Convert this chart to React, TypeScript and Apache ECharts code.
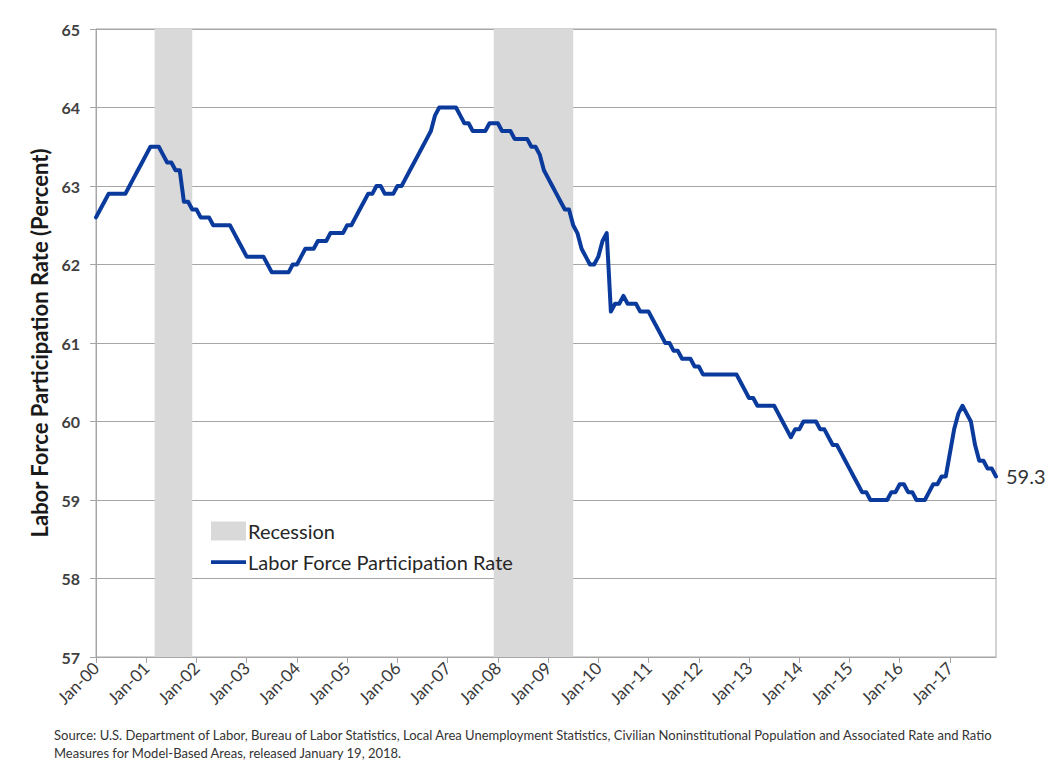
import React, { useEffect, useRef } from "react";
import * as echarts from "echarts";

const MONTHS = ["Jan", "Feb", "Mar", "Apr", "May", "Jun", "Jul", "Aug", "Sep", "Oct", "Nov", "Dec"];
const YEARS = [2000, 2001, 2002, 2003, 2004, 2005, 2006, 2007, 2008, 2009, 2010, 2011, 2012, 2013, 2014, 2015, 2016, 2017];
const CATEGORIES = YEARS.flatMap((y) => MONTHS.map((m) => `${m}-${String(y).slice(2)}`));

const lfpr2000 = [62.6, 62.7, 62.8, 62.9, 62.9, 62.9, 62.9, 62.9, 63.0, 63.1, 63.2, 63.3];
const lfpr2001 = [63.4, 63.5, 63.5, 63.5, 63.4, 63.3, 63.3, 63.2, 63.2, 62.8, 62.8, 62.7];
const lfpr2002 = [62.7, 62.6, 62.6, 62.6, 62.5, 62.5, 62.5, 62.5, 62.5, 62.4, 62.3, 62.2];
const lfpr2003 = [62.1, 62.1, 62.1, 62.1, 62.1, 62.0, 61.9, 61.9, 61.9, 61.9, 61.9, 62.0];
const lfpr2004 = [62.0, 62.1, 62.2, 62.2, 62.2, 62.3, 62.3, 62.3, 62.4, 62.4, 62.4, 62.4];
const lfpr2005 = [62.5, 62.5, 62.6, 62.7, 62.8, 62.9, 62.9, 63.0, 63.0, 62.9, 62.9, 62.9];
const lfpr2006 = [63.0, 63.0, 63.1, 63.2, 63.3, 63.4, 63.5, 63.6, 63.7, 63.9, 64.0, 64.0];
const lfpr2007 = [64.0, 64.0, 64.0, 63.9, 63.8, 63.8, 63.7, 63.7, 63.7, 63.7, 63.8, 63.8];
const lfpr2008 = [63.8, 63.7, 63.7, 63.7, 63.6, 63.6, 63.6, 63.6, 63.5, 63.5, 63.4, 63.2];
const lfpr2009 = [63.1, 63.0, 62.9, 62.8, 62.7, 62.7, 62.5, 62.4, 62.2, 62.1, 62.0, 62.0];
const lfpr2010 = [62.1, 62.3, 62.4, 61.4, 61.5, 61.5, 61.6, 61.5, 61.5, 61.5, 61.4, 61.4];
const lfpr2011 = [61.4, 61.3, 61.2, 61.1, 61.0, 61.0, 60.9, 60.9, 60.8, 60.8, 60.8, 60.7];
const lfpr2012 = [60.7, 60.6, 60.6, 60.6, 60.6, 60.6, 60.6, 60.6, 60.6, 60.6, 60.5, 60.4];
const lfpr2013 = [60.3, 60.3, 60.2, 60.2, 60.2, 60.2, 60.2, 60.1, 60.0, 59.9, 59.8, 59.9];
const lfpr2014 = [59.9, 60.0, 60.0, 60.0, 60.0, 59.9, 59.9, 59.8, 59.7, 59.7, 59.6, 59.5];
const lfpr2015 = [59.4, 59.3, 59.2, 59.1, 59.1, 59.0, 59.0, 59.0, 59.0, 59.0, 59.1, 59.1];
const lfpr2016 = [59.2, 59.2, 59.1, 59.1, 59.0, 59.0, 59.0, 59.1, 59.2, 59.2, 59.3, 59.3];
const lfpr2017 = [59.6, 59.9, 60.1, 60.2, 60.1, 60.0, 59.7, 59.5, 59.5, 59.4, 59.4, 59.3];

const LFPR = [
  ...lfpr2000, ...lfpr2001, ...lfpr2002, ...lfpr2003, ...lfpr2004, ...lfpr2005,
  ...lfpr2006, ...lfpr2007, ...lfpr2008, ...lfpr2009, ...lfpr2010, ...lfpr2011,
  ...lfpr2012, ...lfpr2013, ...lfpr2014, ...lfpr2015, ...lfpr2016, ...lfpr2017,
];

// Recessions: first and last month (inclusive)
const RECESSIONS = [
  ["Mar-01", "Nov-01"],
  ["Dec-07", "Jun-09"],
];

const Y_MIN = 57;
const Y_MAX = 65;
const Y_STEP = 1;

const SERIES_LINE = "Labor Force Participation Rate";
const SERIES_REC = "Recession";
const Y_NAME = "Labor Force Participation Rate (Percent)";
const SOURCE_1 =
  "Source: U.S. Department of Labor, Bureau of Labor Statistics, Local Area Unemployment Statistics, Civilian Noninstitutional Population and Associated Rate and Ratio";
const SOURCE_2 = "Measures for Model-Based Areas, released January 19, 2018.";

const FONT = "Lato, 'Open Sans', sans-serif";
const LINE_COLOR = "#0a3a9c";
const REC_COLOR = "#d9d9d9";
// thin bar icon inside a 35x19 box (bounding points keep the box size)
const LINE_ICON = "path://M0,0 M35,19 M0,7.8 L35,7.8 L35,11.4 L0,11.4 Z";

export default function App() {
  const ref = useRef<HTMLDivElement>(null);

  useEffect(() => {
    document.body.style.margin = "0";
    if (!ref.current) return;
    const chart = echarts.init(ref.current, undefined, { renderer: "svg" });

    const recessionAreas = RECESSIONS.map(([s, e]) => {
      const endIdx = Math.min(CATEGORIES.indexOf(e) + 1, CATEGORIES.length - 1);
      return [{ xAxis: s }, { xAxis: CATEGORIES[endIdx] }];
    });

    chart.setOption({
      animation: false,
      backgroundColor: "#ffffff",
      textStyle: { fontFamily: FONT },
      grid: {
        left: 96,
        top: 29,
        right: 64,
        bottom: 115,
        show: true,
        borderColor: "#a6a6a6",
        borderWidth: 1,
        backgroundColor: "transparent",
      },
      legend: {
        orient: "vertical",
        left: 211,
        top: 521,
        padding: 0,
        itemWidth: 35,
        itemHeight: 19,
        itemGap: 11,
        itemStyle: { borderWidth: 0 },
        textStyle: { fontSize: 20, color: "#262626", fontFamily: FONT, padding: [0, 0, 0, -3] },
        data: [
          { name: SERIES_REC, icon: "rect" },
          { name: SERIES_LINE, icon: LINE_ICON },
        ],
      },
      xAxis: {
        type: "category",
        data: CATEGORIES,
        boundaryGap: false,
        axisLine: { show: true, lineStyle: { color: "#a6a6a6", width: 1 } },
        axisTick: { show: true, interval: 11, length: 6, lineStyle: { color: "#a6a6a6" } },
        axisLabel: {
          interval: 11,
          rotate: 45,
          fontSize: 17,
          color: "#3a3a3a",
          margin: 8,
          fontFamily: FONT,
        },
        splitLine: { show: false },
      },
      yAxis: {
        type: "value",
        min: Y_MIN,
        max: Y_MAX,
        interval: Y_STEP,
        name: Y_NAME,
        nameLocation: "middle",
        nameGap: 40,
        nameTextStyle: { fontSize: 22, fontWeight: "bold", color: "#1a1a1a", fontFamily: FONT },
        axisLine: { show: true, lineStyle: { color: "#a6a6a6", width: 1 } },
        axisTick: { show: true, length: 6, lineStyle: { color: "#a6a6a6" } },
        axisLabel: { fontSize: 16, fontWeight: "bold", color: "#404040", margin: 16, fontFamily: FONT },
        splitLine: { show: true, lineStyle: { color: "#a6a6a6", width: 1 } },
      },
      series: [
        {
          name: SERIES_REC,
          type: "line",
          data: [],
          color: REC_COLOR,
          itemStyle: { color: REC_COLOR },
          lineStyle: { color: REC_COLOR },
          symbol: "none",
          markArea: {
            silent: true,
            itemStyle: { color: REC_COLOR, opacity: 1 },
            data: recessionAreas,
          },
        },
        {
          name: SERIES_LINE,
          type: "line",
          data: LFPR,
          symbol: "none",
          color: LINE_COLOR,
          itemStyle: { color: LINE_COLOR },
          lineStyle: { color: LINE_COLOR, width: 4, join: "round", cap: "round" },
          z: 5,
          endLabel: {
            show: true,
            formatter: (p: any) => Number(p.value).toFixed(1),
            fontSize: 20,
            color: "#333333",
            distance: 10,
            fontFamily: FONT,
          },
        },
      ],
      graphic: [
        {
          type: "text",
          left: 54,
          top: 728,
          style: { text: SOURCE_1, fontSize: 13, fill: "#333333", fontFamily: FONT },
        },
        {
          type: "text",
          left: 54,
          top: 746,
          style: { text: SOURCE_2, fontSize: 13, fill: "#333333", fontFamily: FONT },
        },
      ],
    });

    return () => chart.dispose();
  }, []);

  return <div ref={ref} style={{ width: 1060, height: 772 }} />;
}
